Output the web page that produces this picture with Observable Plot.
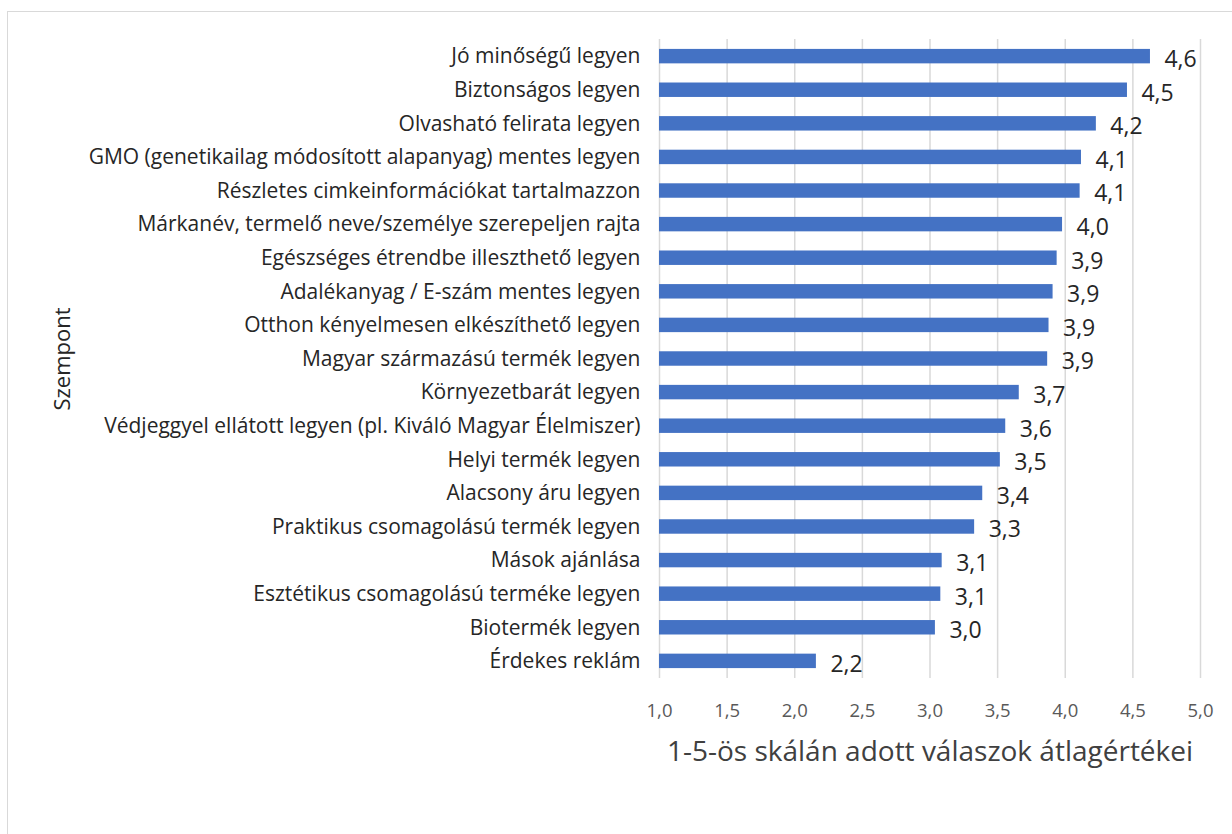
<!DOCTYPE html>
<html>
<head>
<meta charset="utf-8">
<script src="https://cdn.jsdelivr.net/npm/d3@7"></script>
<script src="https://cdn.jsdelivr.net/npm/@observablehq/plot@0.6"></script>
<style>
  html, body { margin: 0; padding: 0; background: #fff; }
  #wrap { position: relative; width: 1232px; height: 834px; overflow: hidden; }
  #border { position: absolute; left: 7px; top: 11px; width: 1240px; height: 840px; border: 1px solid #d9d9d9; box-sizing: border-box; }
  #chart { position: absolute; left: 0; top: 0; }
</style>
</head>
<body>
<div id="wrap"><div id="border"></div><div id="chart"></div></div>
<script>
const categories = [
  "Jó minőségű legyen",
  "Biztonságos legyen",
  "Olvasható felirata legyen",
  "GMO (genetikailag módosított alapanyag) mentes legyen",
  "Részletes cimkeinformációkat tartalmazzon",
  "Márkanév, termelő neve/személye szerepeljen rajta",
  "Egészséges étrendbe illeszthető legyen",
  "Adalékanyag / E-szám mentes legyen",
  "Otthon kényelmesen elkészíthető legyen",
  "Magyar származású termék legyen",
  "Környezetbarát legyen",
  "Védjeggyel ellátott legyen (pl. Kiváló Magyar Élelmiszer)",
  "Helyi termék legyen",
  "Alacsony áru legyen",
  "Praktikus csomagolású termék legyen",
  "Mások ajánlása",
  "Esztétikus csomagolású terméke legyen",
  "Biotermék legyen",
  "Érdekes reklám"
];
const values = [4.63, 4.46, 4.23, 4.12, 4.11, 3.98, 3.94, 3.91, 3.88, 3.87, 3.66, 3.56, 3.52, 3.39, 3.33, 3.09, 3.08, 3.04, 2.16];
const xTicks = [1.0, 1.5, 2.0, 2.5, 3.0, 3.5, 4.0, 4.5, 5.0];
const xTitle = "1-5-ös skálán adott válaszok átlagértékei";
const yTitle = "Szempont";

const data = categories.map((c, i) => ({c, v: values[i]}));
const fmt = v => v.toFixed(1).replace(".", ",");

const chart = Plot.plot({
  width: 1232,
  height: 834,
  marginLeft: 659,
  marginRight: 32,
  marginTop: 39,
  marginBottom: 156,
  style: {fontFamily: "'Open Sans', sans-serif", color: "#404040", background: "transparent"},
  x: {domain: [1, 5]},
  y: {domain: categories, paddingInner: 0.57, paddingOuter: 0.295, round: false},
  marks: [
    Plot.ruleX(xTicks, {stroke: "#d9d9d9", strokeWidth: 1.5}),
    Plot.barX(data, {x1: 1, x2: "v", y: "c", fill: "#4472c4"}),
    Plot.text(data, {x: "v", y: "c", text: d => fmt(d.v), textAnchor: "start", dx: 14, dy: 3, fontSize: 23, fill: "#262626"}),
    Plot.axisX({ticks: xTicks, tickFormat: fmt, tickSize: 0, tickPadding: 25, fontSize: 18.5, fill: "#595959", label: null}),
    Plot.axisY({tickSize: 0, tickPadding: 19, fontSize: 21, fill: "#262626", label: null}),
    Plot.text([xTitle], {frameAnchor: "bottom", dy: 74, lineAnchor: "middle", textAnchor: "middle", fontSize: 28, fill: "#404040"}),
    Plot.text([yTitle], {frameAnchor: "left", dx: -597, rotate: -90, lineAnchor: "middle", textAnchor: "middle", fontSize: 22, fill: "#262626"})
  ]
});
document.getElementById("chart").appendChild(chart);
</script>
</body>
</html>
